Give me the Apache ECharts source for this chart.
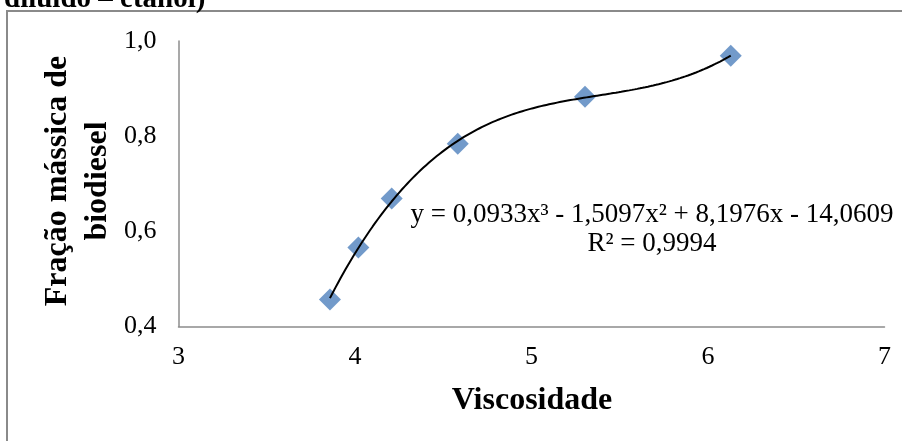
<!DOCTYPE html>
<html>
<head>
<meta charset="utf-8">
<script src="https://cdn.jsdelivr.net/npm/echarts@6/dist/echarts.min.js"></script>
<style>
  html, body { margin: 0; padding: 0; background: #fff; }
  #chart { width: 902px; height: 441px; }
</style>
</head>
<body>
<div id="chart"></div>
<script>
// Measured samples: viscosity vs. biodiesel mass fraction
const viscosidade = [3.858, 4.019, 4.208, 4.582, 5.303, 6.129];
const fracaoMassica = [0.457, 0.566, 0.669, 0.784, 0.883, 0.969];

// Axis tick labels (decimal comma)
const xTicks = ['3', '4', '5', '6', '7'];
const yTicks = ['0,4', '0,6', '0,8', '1,0'];

// Trendline text
const equationText = 'y = 0,0933x³ - 1,5097x² + 8,1976x - 14,0609';
const r2Text = 'R² = 0,9994';

// Least-squares cubic fit of the samples (polynomial trendline)
function cubicFit(xs, ys) {
  const n = 4;
  const A = [];
  for (let i = 0; i < n; i++) {
    A.push(new Array(n + 1).fill(0));
  }
  for (let k = 0; k < xs.length; k++) {
    for (let i = 0; i < n; i++) {
      for (let j = 0; j < n; j++) A[i][j] += Math.pow(xs[k], i + j);
      A[i][n] += ys[k] * Math.pow(xs[k], i);
    }
  }
  for (let c = 0; c < n; c++) {
    let p = c;
    for (let r = c + 1; r < n; r++) if (Math.abs(A[r][c]) > Math.abs(A[p][c])) p = r;
    [A[c], A[p]] = [A[p], A[c]];
    for (let r = 0; r < n; r++) {
      if (r === c) continue;
      const f = A[r][c] / A[c][c];
      for (let j = c; j <= n; j++) A[r][j] -= f * A[c][j];
    }
  }
  return A.map((row, i) => row[n] / row[i]);
}

const coef = cubicFit(viscosidade, fracaoMassica);
const xMin = Math.min(...viscosidade), xMax = Math.max(...viscosidade);
const trend = [];
const steps = 150;
for (let i = 0; i <= steps; i++) {
  const x = xMin + (xMax - xMin) * i / steps;
  trend.push([x, coef[0] + coef[1] * x + coef[2] * x * x + coef[3] * x * x * x]);
}

const FONT = "'Liberation Serif', 'Times New Roman', serif";
const axisGrey = '#8c8c8c';

const chart = echarts.init(document.getElementById('chart'), null, { renderer: 'canvas' });
chart.setOption({
  animation: false,
  backgroundColor: '#fff',
  grid: { left: 178.5, top: 41, width: 706, height: 285.5, containLabel: false },
  xAxis: {
    type: 'value', min: 3, max: 7, interval: 1,
    axisLine: { show: true, lineStyle: { color: axisGrey, width: 1.5 } },
    axisTick: { show: false },
    splitLine: { show: false },
    axisLabel: {
      fontFamily: FONT, fontSize: 26, color: '#000', margin: 18,
      formatter: v => xTicks[Math.round(v - 3)]
    }
  },
  yAxis: {
    type: 'value', min: 0.4, max: 1.0, interval: 0.2,
    axisLine: { show: true, lineStyle: { color: axisGrey, width: 1.5 } },
    axisTick: { show: false },
    splitLine: { show: false },
    axisLabel: {
      fontFamily: FONT, fontSize: 26, color: '#000', margin: 22,
      formatter: v => yTicks[Math.round((v - 0.4) / 0.2)]
    }
  },
  series: [
    {
      type: 'scatter',
      data: viscosidade.map((x, i) => [x, fracaoMassica[i]]),
      symbol: 'diamond',
      symbolSize: [22, 22],
      itemStyle: { color: '#4f81bd' },
      z: 2
    },
    {
      type: 'line',
      data: trend,
      showSymbol: false,
      lineStyle: { color: '#000', width: 2 },
      z: 3
    }
  ],
  graphic: [
    {
      type: 'rect', silent: true,
      shape: { x: 7, y: 11, width: 1000, height: 1000 },
      style: { fill: null, stroke: '#8a8a8a', lineWidth: 2 }
    },
    {
      type: 'text', silent: true, x: 4, y: 0,
      style: { text: 'diluído – etanol)', font: "bold 29px " + FONT, fill: '#000',
               textAlign: 'left', textVerticalAlign: 'middle' }
    },
    {
      type: 'text', silent: true, x: 77.5, y: 181, rotation: Math.PI / 2,
      style: { text: 'Fração mássica de\nbiodiesel', font: "bold 32px " + FONT, fill: '#000',
               lineHeight: 40, textAlign: 'center', textVerticalAlign: 'middle' }
    },
    {
      type: 'text', silent: true, x: 532, y: 401,
      style: { text: 'Viscosidade', font: "bold 32px " + FONT, fill: '#000',
               textAlign: 'center', textVerticalAlign: 'middle' }
    },
    {
      type: 'text', silent: true, x: 652, y: 229,
      style: { text: equationText + '\n' + r2Text, font: "27px " + FONT, fill: '#000',
               lineHeight: 29, textAlign: 'center', textVerticalAlign: 'middle' }
    }
  ]
});
</script>
</body>
</html>
